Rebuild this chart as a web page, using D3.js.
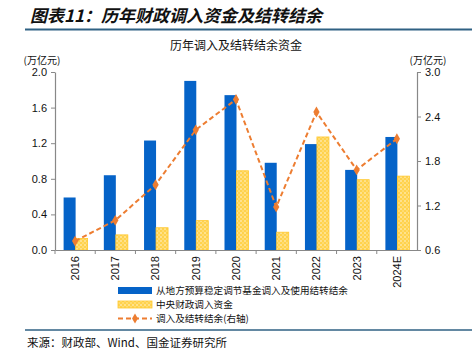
<!DOCTYPE html>
<html><head><meta charset="utf-8">
<script src="https://cdn.jsdelivr.net/npm/d3@7"></script>
<style>body{margin:0;background:#fff;}svg{display:block;font-family:"Noto Sans CJK SC","Liberation Sans",sans-serif;}</style>
</head><body>
<script>
const categories = ["2016","2017","2018","2019","2020","2021","2022","2023","2024E"];
const localFunds = [0.59,0.84,1.23,1.90,1.74,0.98,1.19,0.90,1.27];
const centralFunds = [0.13,0.17,0.25,0.33,0.89,0.20,1.27,0.79,0.83];
const totalFunds = [0.72,1.00,1.48,2.22,2.63,1.18,2.46,1.68,2.10];
const leftTicks = [0,0.4,0.8,1.2,1.6,2.0];
const rightTicks = [0.6,1.2,1.8,2.4,3.0];
const seriesNames = ["从地方预算稳定调节基金调入及使用结转结余","中央财政调入资金","调入及结转结余(右轴)"];

const W=472,H=357;
const svg=d3.select("body").append("svg").attr("width",W).attr("height",H);
const defs=svg.append("defs");
const pat=defs.append("pattern").attr("id","dots").attr("patternUnits","userSpaceOnUse").attr("width",4).attr("height",4);
pat.append("rect").attr("width",4).attr("height",4).attr("fill","#FFD24D");
pat.append("circle").attr("cx",1).attr("cy",1).attr("r",0.7).attr("fill","#fff");
pat.append("circle").attr("cx",3).attr("cy",3).attr("r",0.7).attr("fill","#FFF0B0");

// header
svg.append("text").attr("x",30).attr("y",22).attr("font-size",17).attr("font-weight","bold").attr("font-style","italic").attr("fill","#111").text("图表11：历年财政调入资金及结转结余");
svg.append("line").attr("x1",25).attr("x2",472).attr("y1",29.5).attr("y2",29.5).attr("stroke","#2F6183").attr("stroke-width",2);
svg.append("line").attr("x1",25).attr("x2",472).attr("y1",330).attr("y2",330).attr("stroke","#2F6183").attr("stroke-width",1.5);
svg.append("text").attr("x",27).attr("y",347).attr("font-size",11.5).attr("fill","#111").text("来源：财政部、Wind、国金证券研究所");

svg.append("text").attr("x",236).attr("y",50).attr("text-anchor","middle").attr("font-size",12).attr("fill","#111").text("历年调入及结转结余资金");
svg.append("text").attr("x",42).attr("y",64).attr("text-anchor","middle").attr("font-size",10).attr("fill","#111").text("(万亿元)");
svg.append("text").attr("x",428).attr("y",64).attr("text-anchor","middle").attr("font-size",10).attr("fill","#111").text("(万亿元)");

const x0=55,x1=417,yTop=72,yBot=250;
const x=d3.scaleBand().domain(categories).range([x0,x1]);
const yL=d3.scaleLinear().domain([0,2.0]).range([yBot,yTop]);
const yR=d3.scaleLinear().domain([0.6,3.0]).range([yBot,yTop]);
const bw=12;

// bars
svg.append("g").selectAll("rect").data(categories).join("rect")
 .attr("x",d=>x(d)+x.bandwidth()/2-bw+0.5).attr("width",bw)
 .attr("y",(d,i)=>yL(localFunds[i])).attr("height",(d,i)=>yBot-yL(localFunds[i]))
 .attr("fill","#0563C8");
svg.append("g").selectAll("rect").data(categories).join("rect")
 .attr("x",d=>x(d)+x.bandwidth()/2+0.5).attr("width",bw)
 .attr("y",(d,i)=>yL(centralFunds[i])).attr("height",(d,i)=>yBot-yL(centralFunds[i]))
 .attr("fill","url(#dots)").attr("stroke","#FFC72C").attr("stroke-width",0.8);

// axes
const axL=svg.append("g").attr("transform",`translate(${x0},0)`).call(d3.axisLeft(yL).tickValues(leftTicks).tickFormat(d3.format(".1f")).tickSize(4).tickSizeOuter(0));
const axR=svg.append("g").attr("transform",`translate(${x1},0)`).call(d3.axisRight(yR).tickValues(rightTicks).tickFormat(d3.format(".1f")).tickSize(4).tickSizeOuter(0));
const axB=svg.append("g").attr("transform",`translate(0,${yBot})`).call(d3.axisBottom(x).tickSize(0).tickSizeOuter(0));
[axL,axR,axB].forEach(a=>{a.select(".domain").attr("stroke","#888").attr("stroke-width",1.2);a.selectAll(".tick line").attr("stroke","#888");a.selectAll("text").attr("fill","#111").attr("font-family","Liberation Sans, Arial, sans-serif").attr("font-size",11);});
axL.selectAll("text").attr("x",-8);
axR.selectAll("text").attr("x",8);
axB.selectAll(".tick text").attr("transform","rotate(-90)").attr("text-anchor","end").attr("x",-6).attr("y",0).attr("dy","0.35em");
// tick marks between categories
svg.append("g").selectAll("line").data(categories.slice(1)).join("line")
 .attr("x1",d=>x(d)).attr("x2",d=>x(d)).attr("y1",yBot).attr("y2",yBot+4).attr("stroke","#888");
svg.append("line").attr("x1",x0).attr("x2",x0).attr("y1",yBot).attr("y2",yBot+4).attr("stroke","#888");

// line
const line=d3.line().x((d,i)=>x(categories[i])+x.bandwidth()/2).y(d=>yR(d));
svg.append("path").datum(totalFunds).attr("d",line).attr("fill","none").attr("stroke","#ED7D31").attr("stroke-width",2).attr("stroke-dasharray","5,3");
svg.append("g").selectAll("path").data(totalFunds).join("path")
 .attr("d",d3.symbol(d3.symbolDiamond,34)).attr("fill","#ED7D31")
 .attr("transform",(d,i)=>`translate(${x(categories[i])+x.bandwidth()/2},${yR(d)})`);

// legend
const lg=svg.append("g");
const rowY=[290.5,304.5,318.5];
lg.append("rect").attr("x",118).attr("y",rowY[0]-3.5).attr("width",34).attr("height",7).attr("fill","#0563C8");
lg.append("rect").attr("x",118).attr("y",rowY[1]-3.5).attr("width",34).attr("height",7).attr("fill","url(#dots)").attr("stroke","#FFC72C").attr("stroke-width",0.8);
lg.append("line").attr("x1",118).attr("x2",152).attr("y1",rowY[2]).attr("y2",rowY[2]).attr("stroke","#ED7D31").attr("stroke-width",2).attr("stroke-dasharray","5,3");
lg.append("path").attr("d",d3.symbol(d3.symbolDiamond,30)).attr("fill","#ED7D31").attr("transform",`translate(135,${rowY[2]})`);
seriesNames.forEach((n,i)=>lg.append("text").attr("x",156).attr("y",rowY[i]).attr("dy","0.36em").attr("font-size",9.6).attr("fill","#111").text(n));
</script>
</body></html>
